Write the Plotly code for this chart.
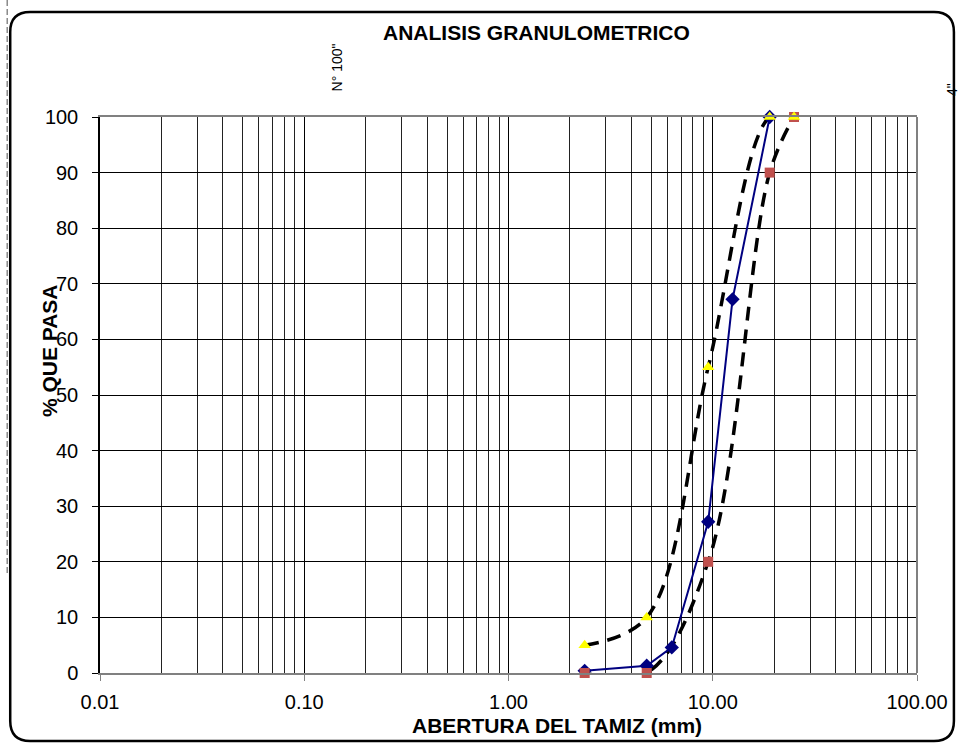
import plotly.graph_objects as go

# ---------------- data ----------------
sieve_mm = [2.36, 4.75, 6.3, 9.5, 12.5, 19.0]
pass_pct = [0.4, 1.3, 4.6, 27.2, 67.2, 100.0]

limit_mm = [2.36, 4.75, 9.5, 19.0, 25.0]
lower_limit = [0, 0, 20, 90, 100]
upper_limit = [5, 10, 55, 100, 100]

x_tick_vals = [0.01, 0.1, 1, 10, 100]
x_tick_text = ["0.01", "0.10", "1.00", "10.00", "100.00"]
x_minor_vals = [m * d for d in [0.01, 0.1, 1, 10] for m in range(2, 10)]
y_tick_vals = list(range(0, 101, 10))

title_text = "ANALISIS GRANULOMETRICO"
x_title = "ABERTURA DEL TAMIZ (mm)"
y_title = "% QUE PASA"
label_no100 = "N° 100\""
label_4in = "4\""

FONT = "Liberation Sans, Arial, sans-serif"

# plot area in pixels
L, R, T, B = 100, 919, 117, 673
W, H = 960, 744


def px(x):
    return (x - L) / (R - L)


def py(y):
    return (B - y) / (B - T)


fig = go.Figure()

# dashed limit curves
fig.add_trace(go.Scatter(x=limit_mm, y=lower_limit, mode="lines",
                         line=dict(color="black", width=3.5, dash="14px,9px", shape="spline"),
                         showlegend=False, hoverinfo="skip"))
fig.add_trace(go.Scatter(x=limit_mm, y=upper_limit, mode="lines",
                         line=dict(color="black", width=3.5, dash="14px,9px", shape="spline"),
                         showlegend=False, hoverinfo="skip"))
# sample curve
fig.add_trace(go.Scatter(x=sieve_mm, y=pass_pct, mode="lines+markers",
                         line=dict(color="#000080", width=2),
                         marker=dict(symbol="diamond", size=11, color="#000080"),
                         cliponaxis=False, showlegend=False))
# limit markers
fig.add_trace(go.Scatter(x=limit_mm, y=lower_limit, mode="markers",
                         marker=dict(symbol="square", size=10, color="#C0504D"),
                         cliponaxis=False, showlegend=False))
fig.add_trace(go.Scatter(x=limit_mm, y=upper_limit, mode="markers",
                         marker=dict(symbol="triangle-up", size=11, color="#FFFF00"),
                         cliponaxis=False, showlegend=False))

shapes = []
# right frame line
shapes.append(dict(type="line", xref="paper", yref="paper", x0=1, x1=1, y0=0, y1=1,
                   line=dict(color="#808080", width=2)))
# rounded chart border
x0, x1, y0, y1, r = 10, 956, 12, 741, 20
pts = [("M", x0 + r, y0), ("L", x1 - r, y0), ("Q", x1, y0, x1, y0 + r),
       ("L", x1, y1 - r), ("Q", x1, y1, x1 - r, y1), ("L", x0 + r, y1),
       ("Q", x0, y1, x0, y1 - r), ("L", x0, y0 + r), ("Q", x0, y0, x0 + r, y0)]
path = ""
for p in pts:
    cmd = p[0]
    coords = p[1:]
    seg = []
    for i in range(0, len(coords), 2):
        seg.append(f"{px(coords[i]):.5f},{py(coords[i+1]):.5f}")
    path += cmd + " " + " ".join(seg) + " "
path += "Z"
shapes.append(dict(type="path", xref="paper", yref="paper", path=path,
                   line=dict(color="black", width=2.5), layer="above"))
# left dashed artifact line
shapes.append(dict(type="line", xref="paper", yref="paper", x0=px(7), x1=px(7), y0=py(0), y1=py(575),
                   line=dict(color="#8a8a8a", width=1.5, dash="6px,3px")))


def ann(text, x, y, size, angle=0):
    return dict(text=text, x=px(x), y=py(y), xref="paper", yref="paper",
                xanchor="center", yanchor="middle", showarrow=False,
                textangle=angle, font=dict(family=FONT, size=size, color="black"))


annotations = [
    ann(f"<b>{title_text}</b>", 538, 32, 21),
    ann(f"<b>{x_title}</b>", 558, 725, 21),
    ann(f"<b>{y_title}</b>", 49, 351, 21, -90),
    ann(label_no100, 338, 67, 14, -90),
    ann(label_4in, 954, 89, 14, -90),
]

fig.update_layout(
    width=W, height=H,
    margin=dict(l=L, r=W - R, t=T, b=H - B, pad=0),
    paper_bgcolor="white", plot_bgcolor="white",
    font=dict(family=FONT, size=20, color="black"),
    shapes=shapes, annotations=annotations,
    showlegend=False,
)
fig.update_xaxes(
    type="log", range=[-2, 2],
    tickmode="array", tickvals=x_tick_vals, ticktext=x_tick_text,
    showgrid=True, gridcolor="black", gridwidth=1,
    minor=dict(tickmode="array", tickvals=x_minor_vals, showgrid=True,
               gridcolor="#222222", gridwidth=1, ticks=""),
    showline=True, linecolor="#808080", linewidth=2, mirror=True,
    ticks="outside", ticklen=6, tickcolor="#808080", tickwidth=1,
    ticklabelstandoff=4,
    tickfont=dict(family=FONT, size=20, color="black"),
    zeroline=False,
)
fig.update_yaxes(
    range=[0, 100], tickmode="array", tickvals=y_tick_vals,
    showgrid=True, gridcolor="black", gridwidth=1,
    showline=True, linecolor="black", linewidth=1.5,
    ticks="outside", ticklen=6, tickcolor="black", tickwidth=1,
    ticklabelstandoff=10,
    tickfont=dict(family=FONT, size=20, color="black"),
    zeroline=False,
)

fig.write_html("out.html")
